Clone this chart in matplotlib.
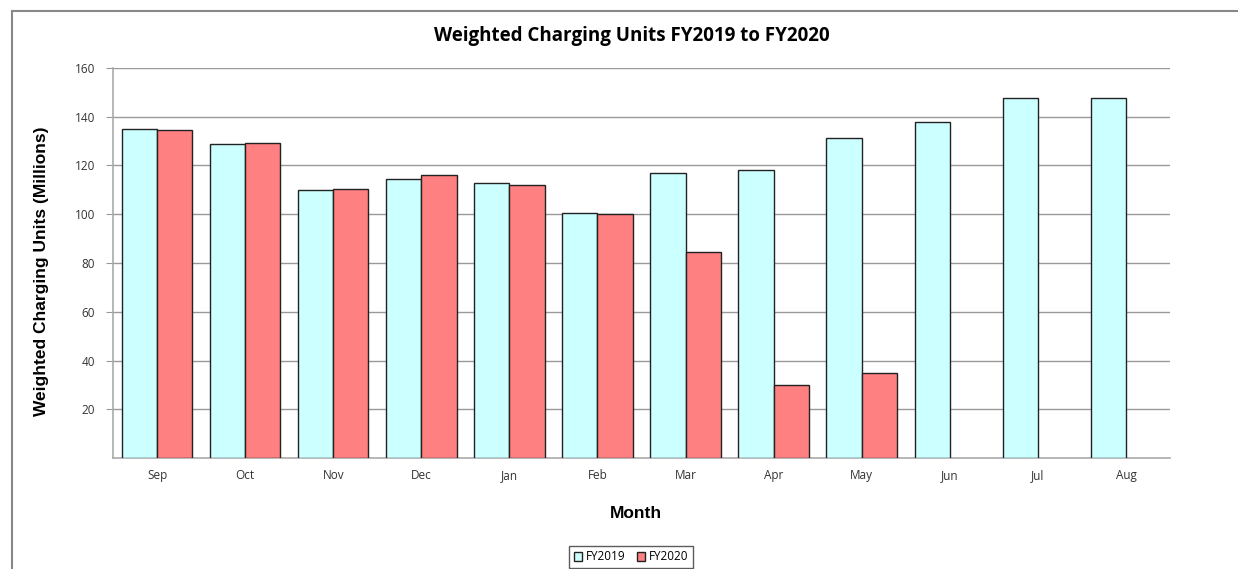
import numpy as np
import matplotlib.pyplot as plt
from matplotlib.lines import Line2D

plt.rcParams['font.family'] = ['Open Sans', 'DejaVu Sans']

months = ['Sep', 'Oct', 'Nov', 'Dec', 'Jan', 'Feb', 'Mar', 'Apr', 'May', 'Jun', 'Jul', 'Aug']
fy2019 = [135.0, 129.0, 110.1, 114.6, 112.8, 100.5, 117.1, 118.0, 131.3, 137.8, 147.8, 147.8]
fy2020 = [134.5, 129.4, 110.5, 116.0, 112.0, 100.1, 84.4, 29.9, 34.9]

fig = plt.figure(figsize=(12.38, 5.69), dpi=100)
ax = fig.add_axes([113 / 1238, 1 - 458 / 569, (1170 - 113) / 1238, 390 / 569])

x = np.arange(len(months))
w = 0.4
ax.bar(x - w / 2, fy2019, w, color='#ccffff', edgecolor='#222222', linewidth=1.0,
       label='FY2019', zorder=3)
ax.bar(x[:len(fy2020)] + w / 2, fy2020, w, color='#ff8080', edgecolor='#222222',
       linewidth=1.0, label='FY2020', zorder=3)

ax.set_xlim(-0.5, len(months) - 0.5)
ax.set_ylim(0, 160)
ax.set_yticks(range(20, 161, 20))
ax.set_xticks(x)
ax.set_xticklabels(months, fontsize=8.5, color='#333333')
ax.tick_params(axis='x', length=0, pad=8)
ax.tick_params(axis='y', length=5, color='#999999', labelsize=8.5, labelcolor='#333333', pad=8)
ax.grid(axis='y', color='#999999', linewidth=1.0, zorder=0)
for s in ['top', 'right']:
    ax.spines[s].set_visible(False)
for s in ['left', 'bottom']:
    ax.spines[s].set_color('#aaaaaa')
    ax.spines[s].set_linewidth(1.2)

fig.text(632 / 1238, 1 - 36 / 569, 'Weighted Charging Units FY2019 to FY2020',
         ha='center', va='center', fontsize=13.5, fontweight='bold')
fig.text(636 / 1238, 1 - 514 / 569, 'Month', ha='center', va='center',
         fontsize=12.5, fontweight='bold', family='Liberation Sans')
fig.text(42 / 1238, 1 - 271 / 569, 'Weighted Charging Units (Millions)', ha='center',
         va='center', rotation=90, fontsize=12.5, fontweight='bold', family='Liberation Sans')

leg = fig.legend(loc='center', bbox_to_anchor=(631 / 1238, 1 - 557 / 569), ncol=2,
                 fontsize=8.5, frameon=True, fancybox=False, edgecolor='#333333',
                 handlelength=0.7, handleheight=0.7, handletextpad=0.3, columnspacing=1.0,
                 borderpad=0.4)
leg.get_frame().set_linewidth(1.0)

# outer chart border (top and left edges visible)
fig.add_artist(Line2D([12 / 1238, 12 / 1238], [0, 1 - 11 / 569], transform=fig.transFigure,
                      color='#888888', linewidth=1.5))
fig.add_artist(Line2D([12 / 1238, 1], [1 - 11 / 569, 1 - 11 / 569], transform=fig.transFigure,
                      color='#888888', linewidth=1.5))

fig.savefig('out.png', dpi=100)
